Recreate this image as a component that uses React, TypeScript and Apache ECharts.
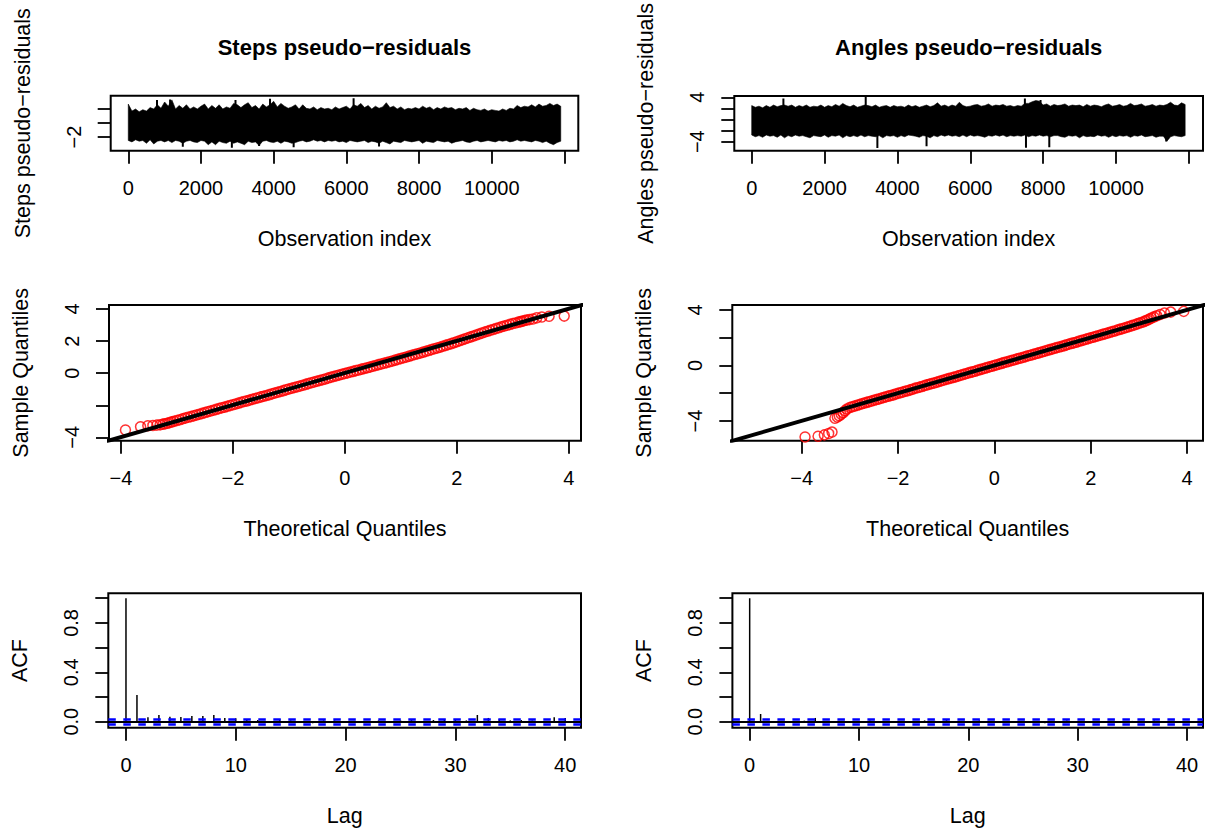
import React, { useEffect, useRef } from 'react';
import * as echarts from 'echarts';

const FONT = '"Liberation Sans", Arial, Helvetica, sans-serif';

// ---------- Titles / labels ----------
const panelTitles = ['Steps pseudo\u2212residuals', 'Angles pseudo\u2212residuals'];
const tsYNames = ['Steps pseudo\u2212residuals', 'Angles pseudo\u2212residuals'];

const tsObsStep = 100;
const stepsUpperVals = [
  2.7, 1.7, 2.0, 1.6, 1.9, 1.7, 2.2, 2.0, 2.6, 2.1, 3.0, 2.4, 3.3, 2.0, 2.5, 2.1, 2.6, 2.0, 2.3, 2.0,
  2.4, 2.7, 2.0, 2.5, 2.1, 2.6, 2.0, 2.3, 2.1, 2.8, 2.6, 2.2, 2.6, 2.9, 2.2, 2.5, 2.0, 2.7, 2.3, 2.6,
  3.1, 2.3, 2.8, 2.4, 2.1, 2.3, 2.6, 2.0, 2.6, 2.1, 2.0, 2.3, 1.9, 2.2, 2.0, 2.1, 1.9, 2.3, 2.0, 2.2,
  2.4, 2.0, 2.6, 2.4, 2.8, 2.2, 2.5, 2.0, 2.4, 2.1, 2.3, 2.9, 2.2, 2.4, 2.0, 2.3, 1.9, 2.1, 2.0, 2.2,
  2.0, 2.4, 2.1, 2.3, 1.9, 2.2, 2.0, 2.3, 2.1, 2.2, 1.9, 2.1, 2.0, 2.2, 1.8, 2.1, 1.9, 1.8, 2.0, 1.7,
  1.9, 1.8, 1.7, 2.0, 1.8, 2.1, 2.0, 2.5, 2.2, 2.4, 2.3, 2.6, 2.3, 2.7, 2.4, 2.5, 2.8, 2.5, 2.7, 2.4,
];
const stepsLowerVals = [
  -2.5, -2.7, -2.4, -2.6, -2.5, -2.9, -2.4, -3.0, -2.6, -2.5, -2.7, -2.5, -2.8, -2.5, -2.6, -2.9, -2.6, -2.5, -2.7, -2.8,
  -2.5, -2.6, -3.1, -2.7, -3.1, -2.6, -2.8, -2.9, -2.6, -2.9, -2.7, -2.9, -3.1, -2.6, -2.8, -2.7, -3.2, -2.6, -2.5, -2.7,
  -2.8, -2.6, -2.9, -2.6, -2.7, -2.9, -2.8, -2.6, -2.5, -2.7, -2.6, -2.4, -2.6, -2.5, -2.7, -2.5, -2.6, -2.5, -2.7, -2.6,
  -2.8, -2.5, -2.6, -2.7, -2.6, -2.5, -2.8, -2.6, -2.7, -2.9, -2.6, -2.8, -3.0, -2.6, -2.7, -2.8, -2.5, -2.6, -2.7, -2.6,
  -2.5, -2.9, -2.6, -2.7, -2.8, -2.5, -2.6, -2.7, -2.6, -2.9, -2.7, -2.6, -2.5, -2.7, -2.8, -2.6, -2.5, -2.7, -2.6, -2.5,
  -2.6, -2.7, -2.5, -2.6, -2.5, -2.7, -2.6, -2.4, -2.6, -2.5, -2.6, -2.7, -2.5, -2.6, -2.8, -2.6, -2.9, -3.1, -2.8, -2.6,
];
const stepsSpikes: number[][] = [
  [790, 3.3], [1150, 3.35], [2950, 3.3], [3900, 3.45], [6200, 3.55],
  [1500, -3.4], [2850, -3.55], [3600, -3.3], [4550, -3.45], [6900, -3.35],
];
const anglesUpperVals = [
  2.5, 2.2, 2.4, 2.1, 2.5, 2.2, 2.6, 2.3, 2.5, 2.6, 2.4, 2.6, 2.2, 2.5, 2.3, 2.6, 2.2, 2.4, 2.3, 2.6,
  2.2, 2.5, 2.3, 2.7, 2.4, 2.9, 2.5, 2.3, 2.6, 2.2, 2.4, 2.6, 2.5, 2.3, 2.6, 2.2, 2.4, 2.5, 2.2, 2.5,
  2.3, 2.4, 2.2, 2.6, 2.3, 2.5, 2.2, 2.4, 2.6, 2.3, 2.5, 3.0, 2.4, 2.6, 2.3, 2.6, 2.4, 3.1, 2.5, 2.3,
  2.4, 2.6, 2.7, 2.4, 2.5, 2.8, 2.4, 2.6, 2.5, 2.7, 2.4, 2.5, 2.3, 2.5, 2.4, 2.9, 2.9, 3.2, 3.4, 3.3,
  2.6, 2.8, 2.4, 2.7, 2.5, 2.6, 2.8, 2.4, 2.6, 2.5, 2.6, 2.3, 2.7, 2.4, 2.6, 2.5, 2.3, 2.6, 2.8, 2.4,
  2.5, 2.7, 2.4, 2.5, 2.9, 2.5, 2.6, 2.8, 2.4, 2.5, 2.7, 2.4, 2.6, 2.5, 2.7, 3.1, 2.6, 2.5, 3.0, 2.7,
];
const anglesLowerVals = [
  -2.8, -3.1, -2.9, -3.2, -2.8, -3.0, -2.9, -3.2, -2.8, -3.3, -2.9, -3.1, -2.8, -3.0, -2.9, -3.1, -3.3, -2.9, -3.0, -3.1,
  -2.8, -3.2, -2.9, -3.0, -2.8, -3.3, -2.9, -3.1, -2.9, -3.1, -2.8, -3.1, -2.9, -3.0, -3.1, -2.9, -3.3, -2.9, -3.0, -2.9,
  -3.2, -2.9, -3.1, -2.8, -2.9, -3.0, -3.2, -2.9, -3.0, -3.3, -2.9, -3.1, -2.8, -3.0, -2.8, -3.0, -2.9, -3.1, -2.8, -3.1,
  -2.8, -3.0, -2.9, -3.0, -3.2, -2.9, -3.0, -2.8, -3.0, -2.8, -3.1, -2.9, -3.0, -2.9, -3.0, -2.8, -3.1, -2.9, -3.0, -2.8,
  -3.0, -2.9, -3.1, -2.9, -2.9, -3.1, -3.2, -2.9, -3.0, -2.9, -3.3, -2.9, -3.1, -3.0, -3.1, -2.8, -3.0, -2.9, -3.2, -2.9,
  -3.1, -2.9, -3.0, -2.9, -3.2, -2.9, -3.0, -2.8, -3.1, -3.0, -2.9, -3.2, -3.0, -3.0, -3.9, -3.1, -2.9, -3.0, -3.1, -2.9,
];
const anglesSpikes: number[][] = [
  [870, 3.8], [3130, 4.2], [7500, 3.8], [7930, 3.5],
  [3450, -5.15], [4800, -4.8], [7530, -5.1], [8170, -5.0], [11380, -3.95],
];

// ---------- QQ plots: [theoretical, sample] quantile pairs ----------
const stepsQQ: number[][] = [
  [-3.92, -3.54], [-3.65, -3.34], [-3.52, -3.28], [-3.43, -3.26], [-3.36, -3.24], [-3.30, -3.22], [-3.25, -3.18], [-3.21, -3.15],
  [-3.17, -3.12], [-3.13, -3.08], [-3.09, -3.04], [-3.05, -3.00],
  [-3.00, -2.95], [-2.95, -2.90], [-2.90, -2.85], [-2.85, -2.80], [-2.80, -2.75], [-2.75, -2.71], [-2.70, -2.66], [-2.65, -2.61],
  [-2.60, -2.56], [-2.55, -2.51], [-2.50, -2.46], [-2.45, -2.41], [-2.40, -2.36], [-2.35, -2.31], [-2.30, -2.26], [-2.25, -2.21],
  [-2.20, -2.16], [-2.15, -2.12], [-2.10, -2.07], [-2.05, -2.02], [-2.00, -1.97], [-1.95, -1.92], [-1.90, -1.87], [-1.85, -1.82],
  [-1.80, -1.77], [-1.75, -1.73], [-1.70, -1.68], [-1.65, -1.63], [-1.60, -1.58], [-1.55, -1.53], [-1.50, -1.48], [-1.45, -1.44],
  [-1.40, -1.39], [-1.35, -1.34], [-1.30, -1.29], [-1.25, -1.24], [-1.20, -1.19], [-1.15, -1.14], [-1.10, -1.09], [-1.05, -1.04],
  [-1.00, -0.99], [-0.95, -0.94], [-0.90, -0.89], [-0.85, -0.85], [-0.80, -0.80], [-0.75, -0.75], [-0.70, -0.70], [-0.65, -0.65],
  [-0.60, -0.60], [-0.55, -0.55], [-0.50, -0.50], [-0.45, -0.46], [-0.40, -0.41], [-0.35, -0.36], [-0.30, -0.31], [-0.25, -0.26],
  [-0.20, -0.21], [-0.15, -0.16], [-0.10, -0.11], [-0.05, -0.07], [0.00, -0.02], [0.05, 0.02], [0.10, 0.07], [0.15, 0.11],
  [0.20, 0.16], [0.25, 0.20], [0.30, 0.25], [0.35, 0.29], [0.40, 0.34], [0.45, 0.38], [0.50, 0.43], [0.55, 0.48],
  [0.60, 0.53], [0.65, 0.57], [0.70, 0.62], [0.75, 0.66], [0.80, 0.71], [0.85, 0.76], [0.90, 0.81], [0.95, 0.86],
  [1.00, 0.91], [1.05, 0.96], [1.10, 1.01], [1.15, 1.06], [1.20, 1.11], [1.25, 1.16], [1.30, 1.21], [1.35, 1.26],
  [1.40, 1.31], [1.45, 1.36], [1.50, 1.41], [1.55, 1.47], [1.60, 1.52], [1.65, 1.57], [1.70, 1.62], [1.75, 1.68],
  [1.80, 1.73], [1.85, 1.79], [1.90, 1.84], [1.95, 1.90], [2.00, 1.96], [2.05, 2.02], [2.10, 2.08], [2.15, 2.14],
  [2.20, 2.20], [2.25, 2.26], [2.30, 2.32], [2.35, 2.38], [2.40, 2.44], [2.45, 2.50], [2.50, 2.56], [2.55, 2.61],
  [2.60, 2.67], [2.65, 2.72], [2.70, 2.78], [2.75, 2.83], [2.80, 2.89], [2.85, 2.94], [2.90, 2.99], [2.95, 3.04],
  [3.00, 3.09], [3.05, 3.13], [3.10, 3.18], [3.14, 3.21], [3.17, 3.24], [3.21, 3.28], [3.25, 3.31], [3.30, 3.34],
  [3.36, 3.38], [3.43, 3.45], [3.52, 3.50], [3.65, 3.55], [3.92, 3.56],
];
const anglesQQ: number[][] = [
  [-3.93, -5.15], [-3.66, -5.10], [-3.53, -5.00], [-3.44, -4.90], [-3.37, -4.80], [-3.31, -3.80], [-3.26, -3.72], [-3.22, -3.62],
  [-3.18, -3.52], [-3.14, -3.40], [-3.10, -3.26], [-3.06, -3.14],
  [-3.00, -3.03], [-2.95, -2.97], [-2.90, -2.92], [-2.85, -2.87], [-2.80, -2.82], [-2.75, -2.76], [-2.70, -2.71], [-2.65, -2.66],
  [-2.60, -2.61], [-2.55, -2.56], [-2.50, -2.51], [-2.45, -2.46], [-2.40, -2.42], [-2.35, -2.36], [-2.30, -2.31], [-2.25, -2.26],
  [-2.20, -2.21], [-2.15, -2.16], [-2.10, -2.12], [-2.05, -2.06], [-2.00, -2.01], [-1.95, -1.96], [-1.90, -1.91], [-1.85, -1.86],
  [-1.80, -1.82], [-1.75, -1.76], [-1.70, -1.71], [-1.65, -1.65], [-1.60, -1.60], [-1.55, -1.56], [-1.50, -1.51], [-1.45, -1.45],
  [-1.40, -1.40], [-1.35, -1.35], [-1.30, -1.30], [-1.25, -1.26], [-1.20, -1.21], [-1.15, -1.15], [-1.10, -1.10], [-1.05, -1.05],
  [-1.00, -1.00], [-0.95, -0.95], [-0.90, -0.90], [-0.85, -0.86], [-0.80, -0.81], [-0.75, -0.75], [-0.70, -0.70], [-0.65, -0.65],
  [-0.60, -0.60], [-0.55, -0.55], [-0.50, -0.50], [-0.45, -0.46], [-0.40, -0.41], [-0.35, -0.35], [-0.30, -0.30], [-0.25, -0.25],
  [-0.20, -0.20], [-0.15, -0.15], [-0.10, -0.10], [-0.05, -0.05], [0.00, 0.00], [0.05, 0.05], [0.10, 0.10], [0.15, 0.15],
  [0.20, 0.21], [0.25, 0.25], [0.30, 0.30], [0.35, 0.35], [0.40, 0.40], [0.45, 0.45], [0.50, 0.50], [0.55, 0.54],
  [0.60, 0.59], [0.65, 0.64], [0.70, 0.70], [0.75, 0.74], [0.80, 0.79], [0.85, 0.84], [0.90, 0.89], [0.95, 0.94],
  [1.00, 0.99], [1.05, 1.04], [1.10, 1.09], [1.15, 1.14], [1.20, 1.19], [1.25, 1.24], [1.30, 1.29], [1.35, 1.33],
  [1.40, 1.38], [1.45, 1.43], [1.50, 1.49], [1.55, 1.54], [1.60, 1.59], [1.65, 1.63], [1.70, 1.68], [1.75, 1.74],
  [1.80, 1.79], [1.85, 1.84], [1.90, 1.89], [1.95, 1.94], [2.00, 1.99], [2.05, 2.04], [2.10, 2.09], [2.15, 2.14],
  [2.20, 2.19], [2.25, 2.24], [2.30, 2.29], [2.35, 2.34], [2.40, 2.39], [2.45, 2.44], [2.50, 2.49], [2.55, 2.55],
  [2.60, 2.60], [2.65, 2.65], [2.70, 2.70], [2.75, 2.76], [2.80, 2.81], [2.85, 2.87], [2.90, 2.92], [2.95, 2.98],
  [3.00, 3.04], [3.05, 3.10], [3.10, 3.16], [3.14, 3.22], [3.18, 3.28], [3.22, 3.35], [3.26, 3.42], [3.31, 3.50],
  [3.37, 3.58], [3.44, 3.68], [3.53, 3.78], [3.66, 3.85], [3.93, 3.90],
];
// qqline: [intercept, slope]
const stepsQQLine = [0.015, 1.0];
const anglesQQLine = [0.01, 1.0];

// ---------- ACF (lags 0..40) ----------
const acfLags = [0, 1, 2, 3, 4, 5, 6, 7, 8, 9, 10, 11, 12, 13, 14, 15, 16, 17, 18, 19, 20,
  21, 22, 23, 24, 25, 26, 27, 28, 29, 30, 31, 32, 33, 34, 35, 36, 37, 38, 39, 40];
const stepsAcf = [1, 0.215, 0.035, 0.054, 0.04, 0.038, 0.046, 0.046, 0.054, 0.03, 0.027, 0.02, 0.013, 0.005, 0.02, 0.01,
  0.005, -0.013, 0.01, 0.01, 0.0, 0.005, 0.005, 0.01, 0.0, 0.01, 0.013, 0.0, 0.013, 0.02, 0.02, 0.01, 0.054, 0.03, 0.02,
  0.01, 0.013, 0.01, 0.005, 0.035, 0.03];
const anglesAcf = [1, 0.062, 0.005, -0.012, 0.0, 0.008, 0.03, 0.004, -0.003, -0.006, 0.005, 0.01, 0.0, 0.004, 0.006, -0.002,
  0.01, 0.006, 0.012, 0.0, 0.004, 0.01, 0.0, -0.01, 0.004, 0.006, 0.0, -0.012, -0.006, 0.01, 0.004, 0.0, 0.002, 0.006,
  0.004, 0.006, 0.004, 0.01, -0.006, 0.004, 0.0];
const acfConfidence = 0.018;

// ---------- tick values / shown labels ----------
const tsXTicks = [0, 2000, 4000, 6000, 8000, 10000, 12000];
const tsXLabels = [0, 2000, 4000, 6000, 8000, 10000];
const stepsTsYTicks = [-2, 0, 2];
const stepsTsYLabels = [-2];
const anglesTsYTicks = [-4, -2, 0, 2, 4];
const anglesTsYLabels = [-4, 4];
const qqXTicks = [-4, -2, 0, 2, 4];
const qqXLabels = [-4, -2, 0, 2, 4];
const qqYTicks = [-4, -2, 0, 2, 4];
const stepsQQYLabels = [-4, 0, 2, 4];
const anglesQQYLabels = [-4, 0, 4];
const acfXTicks = [0, 10, 20, 30, 40];
const acfYTicks = [0, 0.2, 0.4, 0.6, 0.8, 1.0];
const acfYLabels = [0, 0.4, 0.8];

// ---------- layout (pixel boxes: x0, y0, x1, y1) ----------
const boxes = [
  [110.7, 95.7, 578.3, 150.7],
  [734.3, 96, 1203, 150.7],
  [109, 305, 581, 440.7],
  [732.3, 305, 1203, 440.7],
  [108.3, 593.3, 581, 727.7],
  [732.4, 593.3, 1203, 727.7],
];
const xRanges = [[-484, 12383], [-478, 12390], [-4.214, 4.22], [-5.44, 4.33], [-1.61, 41.44], [-1.58, 41.46]];
const yRanges = [[-3.96, 3.9], [-5.62, 4.23], [-4.21, 4.25], [-5.42, 4.36], [-0.049, 1.04], [-0.049, 1.04]];

const fmtNum = (v: number) => (v < 0 ? '\u2212' + String(Math.abs(v)) : String(v));
const fmtAcf = (v: number) => v.toFixed(1);

function mkAxis(gi: number, isY: boolean, ticks: number[], labels: number[], fmt: (v: number) => string, name: string) {
  const r = isY ? yRanges[gi] : xRanges[gi];
  return {
    type: 'value',
    gridIndex: gi,
    min: r[0],
    max: r[1],
    position: isY ? 'left' : 'bottom',
    axisLine: { show: false, onZero: false },
    splitLine: { show: false },
    axisTick: { show: true, inside: false, length: 13, customValues: ticks, lineStyle: { color: '#000', width: 1.8 } },
    axisLabel: {
      show: true, customValues: labels, formatter: (v: number) => fmt(v), margin: 27, rotate: isY ? 90 : 0,
      color: '#000', fontSize: 20, fontFamily: FONT, hideOverlap: false,
    },
    name,
    nameLocation: 'middle',
    nameGap: 77,
    nameTextStyle: { color: '#000', fontSize: 21.5, fontFamily: FONT },
  };
}

function bandSeries(gi: number, upperVals: number[], lowerVals: number[]) {
  const upper = upperVals.map((v, i) => [i * tsObsStep, v]);
  const lower = lowerVals.map((v, i) => [i * tsObsStep, v]);
  return {
    type: 'custom',
    xAxisIndex: gi,
    yAxisIndex: gi,
    data: [[0, 0]],
    clip: true,
    silent: true,
    renderItem: (_p: any, api: any) => {
      const pts: number[][] = upper.map((d) => api.coord(d));
      for (let i = lower.length - 1; i >= 0; i--) pts.push(api.coord(lower[i]));
      return { type: 'polygon', shape: { points: pts }, style: { fill: '#000', stroke: '#000', lineWidth: 0.6 } };
    },
  };
}

function spikeSeries(gi: number, spikes: number[][]) {
  return {
    type: 'custom',
    xAxisIndex: gi,
    yAxisIndex: gi,
    data: spikes,
    clip: true,
    silent: true,
    renderItem: (_p: any, api: any) => {
      const x = api.value(0);
      const y = api.value(1);
      const p0 = api.coord([x, 0]);
      const p1 = api.coord([x, y]);
      return { type: 'line', shape: { x1: p0[0], y1: p0[1], x2: p1[0], y2: p1[1] }, style: { stroke: '#000', lineWidth: 2 } };
    },
  };
}

function qqScatter(gi: number, pairs: number[][]) {
  return {
    type: 'scatter',
    xAxisIndex: gi,
    yAxisIndex: gi,
    data: pairs,
    symbol: 'circle',
    symbolSize: 10,
    silent: true,
    itemStyle: { color: 'rgba(0,0,0,0)', borderColor: '#ff0000', borderWidth: 1.5 },
    z: 2,
  };
}

function qqLine(gi: number, line: number[]) {
  const [a, b] = line;
  return {
    type: 'line',
    xAxisIndex: gi,
    yAxisIndex: gi,
    data: [[-20, a - 20 * b], [20, a + 20 * b]],
    showSymbol: false,
    clip: true,
    silent: true,
    lineStyle: { color: '#000', width: 4 },
    z: 3,
  };
}

function acfSeries(gi: number, vals: number[]) {
  return {
    type: 'bar',
    xAxisIndex: gi,
    yAxisIndex: gi,
    data: acfLags.map((l, i) => [l, vals[i]]),
    barWidth: 1.5,
    silent: true,
    itemStyle: { color: '#000' },
    markLine: {
      silent: true,
      symbol: ['none', 'none'],
      label: { show: false },
      data: [
        { yAxis: 0, lineStyle: { color: '#000', width: 2, type: 'solid' } },
        { yAxis: acfConfidence, lineStyle: { color: '#0000ff', width: 2.6, type: [7.5, 7.5] } },
        { yAxis: -acfConfidence, lineStyle: { color: '#0000ff', width: 2.6, type: [7.5, 7.5] } },
      ],
    },
  };
}

const option: any = {
  animation: false,
  backgroundColor: '#ffffff',
  grid: boxes.map((b) => ({
    left: b[0], top: b[1], width: b[2] - b[0], height: b[3] - b[1],
    show: true, borderColor: '#000', borderWidth: 2, backgroundColor: 'transparent', containLabel: false,
  })),
  xAxis: [
    mkAxis(0, false, tsXTicks, tsXLabels, fmtNum, 'Observation index'),
    mkAxis(1, false, tsXTicks, tsXLabels, fmtNum, 'Observation index'),
    mkAxis(2, false, qqXTicks, qqXLabels, fmtNum, 'Theoretical Quantiles'),
    mkAxis(3, false, qqXTicks, qqXLabels, fmtNum, 'Theoretical Quantiles'),
    mkAxis(4, false, acfXTicks, acfXTicks, fmtNum, 'Lag'),
    mkAxis(5, false, acfXTicks, acfXTicks, fmtNum, 'Lag'),
  ],
  yAxis: [
    mkAxis(0, true, stepsTsYTicks, stepsTsYLabels, fmtNum, tsYNames[0]),
    mkAxis(1, true, anglesTsYTicks, anglesTsYLabels, fmtNum, tsYNames[1]),
    mkAxis(2, true, qqYTicks, stepsQQYLabels, fmtNum, 'Sample Quantiles'),
    mkAxis(3, true, qqYTicks, anglesQQYLabels, fmtNum, 'Sample Quantiles'),
    mkAxis(4, true, acfYTicks, acfYLabels, fmtAcf, 'ACF'),
    mkAxis(5, true, acfYTicks, acfYLabels, fmtAcf, 'ACF'),
  ],
  graphic: [0, 1].map((i) => ({
    type: 'text',
    x: (boxes[i][0] + boxes[i][2]) / 2,
    y: 47,
    silent: true,
    style: {
      text: panelTitles[i],
      fontSize: 22,
      fontWeight: 'bold',
      fontFamily: FONT,
      fill: '#000',
      align: 'center',
      verticalAlign: 'middle',
      textAlign: 'center',
      textVerticalAlign: 'middle',
    },
  })),
  series: [
    bandSeries(0, stepsUpperVals, stepsLowerVals),
    spikeSeries(0, stepsSpikes),
    bandSeries(1, anglesUpperVals, anglesLowerVals),
    spikeSeries(1, anglesSpikes),
    qqScatter(2, stepsQQ),
    qqLine(2, stepsQQLine),
    qqScatter(3, anglesQQ),
    qqLine(3, anglesQQLine),
    acfSeries(4, stepsAcf),
    acfSeries(5, anglesAcf),
  ],
};

export default function App() {
  const ref = useRef<HTMLDivElement>(null);
  useEffect(() => {
    document.body.style.margin = '0';
    const chart = echarts.init(ref.current as HTMLDivElement, null, { renderer: 'svg' });
    chart.setOption(option);
    return () => {
      chart.dispose();
    };
  }, []);
  return <div ref={ref} style={{ width: 1205, height: 832, background: '#fff' }} />;
}
